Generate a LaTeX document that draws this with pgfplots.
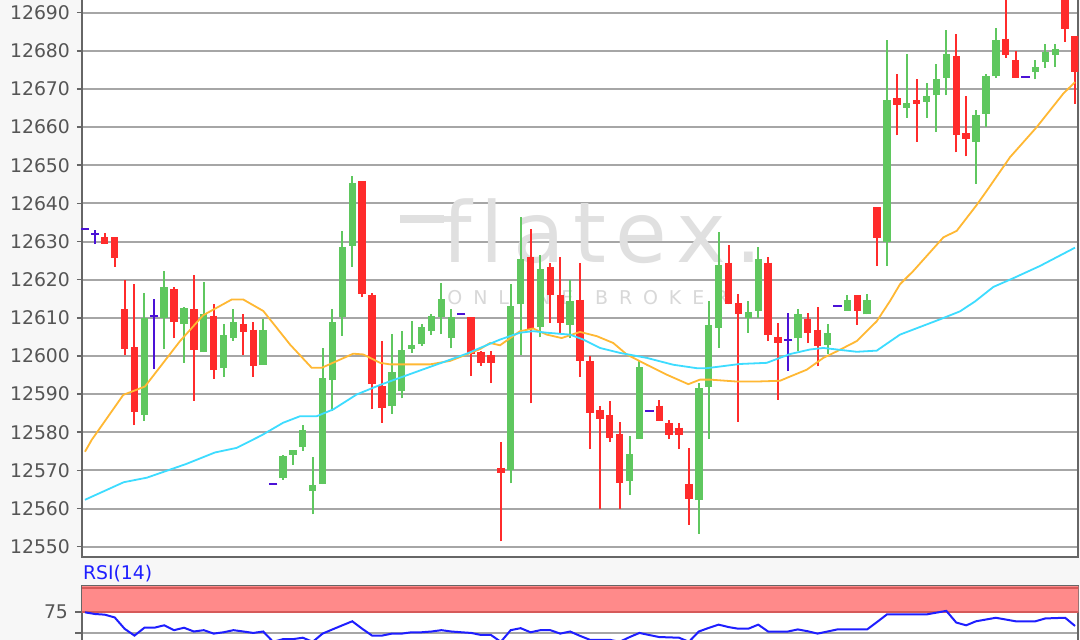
\documentclass[border=0pt]{standalone}
\usepackage{pgfplots}
\usepackage{pgfplotstable}
\pgfplotsset{compat=1.18}
\usepackage{fontspec}
\setmainfont{DejaVu Sans}

\definecolor{bgc}{HTML}{F7F7F7}
\definecolor{gridc}{HTML}{A6A6A6}
\definecolor{axc}{HTML}{666666}
\definecolor{tickc}{HTML}{555555}
\definecolor{upc}{HTML}{5FC75F}
\definecolor{dnc}{HTML}{FF2B2B}
\definecolor{dojic}{HTML}{4B12D6}
\definecolor{mafast}{HTML}{FFB833}
\definecolor{maslow}{HTML}{3DDCFF}
\definecolor{rsic}{HTML}{1E1EFF}
\definecolor{bandc}{HTML}{FF8A8A}
\definecolor{bandl}{HTML}{D65A5A}
\definecolor{wmc}{HTML}{E0E0E0}
\definecolor{wmc2}{HTML}{D8D8D8}

% up (green) candles
\pgfplotstableread{
i O H L C
6 12584.6 12616.4 12583.0 12610.0
8 12610.0 12622.3 12601.9 12618.1
10 12608.4 12612.8 12598.2 12612.5
12 12601.0 12619.4 12601.0 12611.1
14 12596.8 12608.5 12594.5 12605.4
15 12604.7 12612.2 12604.0 12609.0
18 12597.7 12609.7 12597.7 12606.9
20 12568.0 12574.0 12567.5 12573.7
21 12574.1 12575.4 12571.5 12575.4
22 12576.1 12581.8 12575.2 12580.7
23 12564.6 12573.4 12558.5 12566.1
24 12566.4 12602.2 12566.4 12594.3
25 12593.7 12612.3 12585.5 12609.0
26 12610.1 12632.7 12605.3 12628.5
27 12628.9 12647.1 12623.4 12645.4
31 12586.8 12605.7 12584.8 12595.9
32 12590.8 12606.6 12588.9 12601.6
33 12601.8 12609.2 12600.9 12602.8
34 12603.1 12608.3 12602.6 12607.6
35 12606.6 12611.1 12605.5 12610.5
36 12610.3 12619.0 12605.7 12614.9
37 12604.8 12612.3 12602.0 12610.1
43 12570.1 12618.9 12566.6 12613.2
44 12613.5 12636.5 12600.2 12625.4
46 12607.5 12626.5 12604.9 12622.7
49 12608.1 12619.8 12604.6 12614.4
55 12567.2 12579.1 12563.5 12574.3
56 12578.2 12598.6 12578.2 12597.0
62 12562.2 12592.9 12553.4 12591.6
63 12591.8 12614.4 12578.2 12608.1
64 12607.4 12632.4 12602.1 12623.8
67 12610.0 12614.4 12606.1 12611.6
68 12611.9 12628.6 12610.0 12625.4
72 12604.6 12612.4 12601.2 12610.9
75 12603.0 12608.4 12600.5 12605.9
77 12611.9 12616.1 12611.9 12614.8
79 12610.9 12616.3 12610.9 12614.8
81 12630.0 12682.8 12623.6 12667.0
83 12665.1 12679.1 12662.5 12666.4
85 12666.6 12671.6 12662.5 12668.1
86 12668.3 12676.5 12658.7 12672.7
87 12673.0 12685.4 12668.3 12679.1
90 12656.1 12664.4 12645.1 12663.2
91 12663.5 12673.9 12660.0 12673.3
92 12673.3 12685.9 12673.0 12682.8
96 12674.5 12677.5 12672.5 12675.8
97 12677.1 12681.9 12675.6 12679.7
98 12678.9 12681.9 12675.8 12680.6
}\upt

% down (red) candles
\pgfplotstableread{
i O H L C
2 12631.1 12632.2 12629.3 12629.3
3 12631.1 12631.1 12623.4 12625.6
4 12612.2 12619.8 12600.2 12601.9
5 12602.3 12618.9 12581.9 12585.3
9 12617.5 12618.1 12604.6 12608.9
11 12612.2 12621.2 12588.2 12601.5
13 12610.6 12613.7 12594.0 12596.2
16 12608.4 12611.1 12600.2 12606.2
17 12606.9 12608.9 12594.5 12597.3
28 12645.9 12645.9 12615.4 12616.2
29 12616.0 12616.4 12586.0 12592.7
30 12592.1 12604.0 12582.5 12586.4
39 12610.1 12610.1 12594.7 12600.4
40 12601.1 12601.3 12597.4 12598.2
41 12600.2 12601.2 12592.9 12598.2
42 12570.7 12577.5 12551.4 12569.2
45 12626.0 12633.2 12587.6 12607.2
47 12623.3 12624.5 12608.7 12616.1
48 12615.9 12626.0 12606.1 12608.7
50 12614.8 12624.5 12594.6 12598.8
51 12598.6 12599.9 12575.6 12585.0
52 12585.9 12587.0 12560.0 12583.5
53 12584.4 12588.1 12577.5 12578.6
54 12579.6 12582.8 12560.0 12566.8
58 12587.0 12588.5 12583.0 12583.0
59 12582.4 12583.2 12578.2 12579.3
60 12581.2 12582.4 12575.6 12579.3
61 12566.4 12576.0 12555.8 12562.5
65 12624.5 12629.1 12613.5 12613.7
66 12613.8 12616.3 12582.8 12610.9
69 12624.5 12626.0 12603.9 12605.4
70 12604.9 12608.7 12588.5 12603.4
73 12609.7 12611.3 12603.4 12606.1
74 12606.9 12612.8 12597.3 12602.5
78 12615.9 12615.9 12608.2 12611.9
80 12639.1 12639.1 12623.6 12631.0
82 12667.5 12673.9 12657.8 12665.7
84 12667.0 12672.7 12656.1 12666.1
88 12678.6 12684.4 12653.4 12657.8
89 12658.4 12668.1 12652.3 12656.8
93 12683.2 12695.0 12678.2 12678.9
94 12677.5 12680.0 12673.0 12673.0
99 12697.0 12699.0 12682.4 12685.6
100 12683.9 12683.9 12666.1 12674.5
}\dnt

% unchanged (blue) candles
\pgfplotstableread{
i O H L C
0 12633.2 12633.2 12633.2 12633.2
1 12632.1 12633.0 12629.3 12632.1
7 12610.4 12614.9 12596.7 12610.4
19 12566.5 12566.5 12566.5 12566.5
38 12611.1 12611.1 12611.1 12611.1
57 12585.7 12585.7 12585.7 12585.7
71 12604.1 12611.3 12596.0 12604.1
76 12613.1 12613.1 12613.1 12613.1
95 12673.2 12673.2 12673.2 12673.2
}\dojit

\pgfplotsset{
  wick/.style={mark=none, forget plot, line width=1pt,
    quiver={u=0, v=\thisrow{H}-\thisrow{L}}},
  body/.style={mark=none, forget plot, line width=3.7pt,
    quiver={u=0, v=\thisrow{C}-\thisrow{O}}},
}

\begin{document}
\begin{tikzpicture}[x=1pt,y=1pt]
\useasboundingbox (0,0) rectangle (540,320);
\fill[bgc] (0,0) rectangle (540,320);

\begin{axis}[
  at={(41pt,41.5pt)}, anchor=south west,
  scale only axis, width=498.15pt, height=288.5pt,
  xmin=-0.3, xmax=100.33, ymin=12547.3, ymax=12698.57,
  axis background/.style={fill=white},
  axis line style={axc, line width=1pt},
  xtick=\empty,
  ytick={12550,12560,...,12690},
  scaled y ticks=false,
  ytick pos=left,
  tick align=outside,
  major tick length=2.5pt,
  tick style={axc, line width=0.8pt},
  ymajorgrids,
  grid style={gridc, line width=1pt},
  yticklabel style={font=\fontsize{9.4}{11}\selectfont, text=tickc},
  /pgf/number format/fixed,
  /pgf/number format/precision=0,
  /pgf/number format/1000 sep={},
  /pgf/number format/assume math mode=true,
]
\node[anchor=base west, inner sep=0, text=wmc, font=\fontsize{42}{42}\selectfont]
  at (axis cs:31.8,12624.6) {\makebox[181pt][s]{\textcolor{wmc}{\rule[19.5pt]{22pt}{4pt}}\kern-1pt f\hfill l\hfill a\hfill t\hfill e\hfill x\hfill .}};
\node[anchor=base west, inner sep=0, text=wmc2, font=\fontsize{9.5}{10}\selectfont]
  at (axis cs:36.57,12613.4) {\makebox[140.5pt][s]{O\hfill N\hfill L\hfill I\hfill N\hfill E\hfill\hfill B\hfill R\hfill O\hfill K\hfill E\hfill R}};

% wicks (from low to high)
\addplot[upc, wick] table[x=i, y=L] {\upt};
\addplot[dnc, wick] table[x=i, y=L] {\dnt};
\addplot[dojic, wick] table[x=i, y=L] {\dojit};
% bodies (from open to close)
\addplot[upc, body] table[x=i, y=O] {\upt};
\addplot[dnc, body] table[x=i, y=O] {\dnt};
\addplot[dojic, only marks, mark=-, mark size=2.1pt, mark options={line width=1pt}, forget plot] table[x=i, y=C] {\dojit};

% moving averages
\addplot[mafast, line width=0.9pt] coordinates {
(0,12574.9) (0.68,12578.0) (3.87,12589.8) (6.06,12592.0) (9.6,12603.9) (11.95,12610.7)
(14.82,12614.8) (15.99,12614.8) (18.01,12611.8) (20.71,12603.0) (22.9,12596.9) (23.91,12596.9)
(27.1,12600.6) (28.11,12600.4) (29.8,12598.2) (30.81,12597.8) (34.85,12597.8) (36.87,12598.7)
(38.56,12600.4) (39.9,12601.8) (40.91,12603.4) (41.92,12602.8) (43.94,12606.5) (45.28,12607.2)
(46.64,12605.6) (48.15,12604.7) (50,12606.3) (51.69,12605.2) (53.36,12603.4) (54.72,12600.4)
(56.74,12597.7) (58.76,12595.1) (60.94,12592.6) (62.12,12593.8) (63.13,12593.8) (65.83,12593.3)
(67.85,12593.3) (70.2,12593.5) (71.21,12594.6) (72.9,12596.4) (74.58,12599.5) (75.93,12601.2)
(77.95,12603.9) (79.97,12609.1) (81.31,12614.4) (82.32,12618.8) (83.67,12622.3) (86.7,12631.1)
(88.05,12632.8) (90.07,12639.6) (91.08,12643.3) (93.43,12652.1) (96.13,12660.0) (98.82,12668.8)
(100,12671.8)
};
\addplot[maslow, line width=0.9pt] coordinates {
(0,12562.3) (3.91,12566.9) (6.26,12568.1) (10.24,12571.7) (13.13,12574.7) (15.31,12575.9)
(17.84,12579.2) (20.02,12582.5) (21.72,12584.2) (23.4,12584.2) (25.08,12586.0) (27.44,12589.9)
(29.8,12592.4) (31.82,12594.3) (34.17,12596.5) (36.54,12598.7) (38.56,12600.6) (39.9,12602.1)
(41.92,12604.3) (43.94,12606.1) (45.28,12606.5) (46.64,12606.1) (48.99,12605.6) (50.33,12604.3)
(52.02,12602.1) (54.04,12600.8) (56.74,12599.5) (59.42,12597.7) (61.79,12596.8) (62.8,12596.8)
(66.16,12597.9) (68.86,12598.2) (71.21,12600.5) (73.23,12601.7) (74.58,12602.1) (75.93,12601.7)
(77.95,12601.1) (79.97,12601.4) (82.32,12605.6) (86.36,12609.6) (88.38,12611.7) (89.9,12614.3)
(91.75,12618.1) (93.77,12620.4) (96.46,12623.6) (100,12628.4)
};
\end{axis}

\node[anchor=west, inner sep=0, text=rsic, font=\fontsize{9.4}{11}\selectfont] at (41.3pt,33.3pt) {RSI(14)};

\begin{axis}[
  at={(41pt,-30pt)}, anchor=south west,
  scale only axis, width=498.15pt, height=57pt,
  xmin=-0.3, xmax=100.33, ymin=-30, ymax=106,
  axis background/.style={fill=white},
  axis line style={axc, line width=1pt},
  xtick=\empty,
  ytick={50,75}, yticklabels={,75},
  ytick pos=left,
  tick align=outside,
  major tick length=3.5pt,
  tick style={axc, line width=0.8pt},
  ymajorgrids,
  grid style={gridc, line width=1pt},
  yticklabel style={font=\fontsize{9.4}{11}\selectfont, text=tickc},
]
\addplot[fill=bandc, draw=none, forget plot] coordinates {(-1,75) (102,75) (102,106) (-1,106)} -- cycle;
\addplot[bandl, line width=0.9pt, forget plot] coordinates {(-1,75) (102,75)};
\addplot[bandl, line width=0.9pt, forget plot] coordinates {(-1,103.6) (102,103.6)};
\addplot[rsic, line width=1pt] coordinates {
(0,74.6) (1,72.6) (2,71.8) (3,68.5) (4,55) (5,46.8) (6,56.2) (7,56.2) (8,59.1) (9,53.3)
(10,56.2) (11,51.7) (12,53.3) (13,49.2) (14,50.8) (15,53.3) (16,51.7) (17,50) (18,51.7) (19,39.4)
(20,42.6) (21,42.6) (22,44.3) (23,39.4) (24,49.2) (25,54.2) (26,59.1) (27,63.9) (28,55) (29,46.8)
(30,46.8) (31,49.2) (32,49.2) (33,50.8) (34,50.8) (35,51.7) (36,53.3) (37,51.7) (38,50.8) (39,50)
(40,47.6) (41,47.6) (42,39.4) (43,53.3) (44,55.7) (45,50.8) (46,53.3) (47,53.3) (48,49.2) (49,51.7)
(50,46.5) (51,41.8) (52,41.8) (53,41.8) (54,39.4) (55,45) (56,50) (57,47.5) (58,45.1) (59,44.7)
(60,44.3) (61,39.4) (62,51.7) (63,56) (64,59.9) (65,57) (66,55) (67,55) (68,59.9) (69,51.7)
(70,51.7) (71,51.7) (72,54.2) (73,52) (74,49.2) (75,51.7) (76,54.2) (77,54.2) (78,54.2) (79,54.2)
(80,63) (81,72.1) (82,72.1) (83,72.1) (84,72.1) (85,72.1) (86,74.2) (87,76.3) (88,62.4) (89,59.1)
(90,63.9) (91,66) (92,68.1) (93,66) (94,63.9) (95,63.9) (96,63.9) (97,67.3) (98,67.7) (99,68.1)
(100,58.3)
};
\end{axis}
\end{tikzpicture}
\end{document}
